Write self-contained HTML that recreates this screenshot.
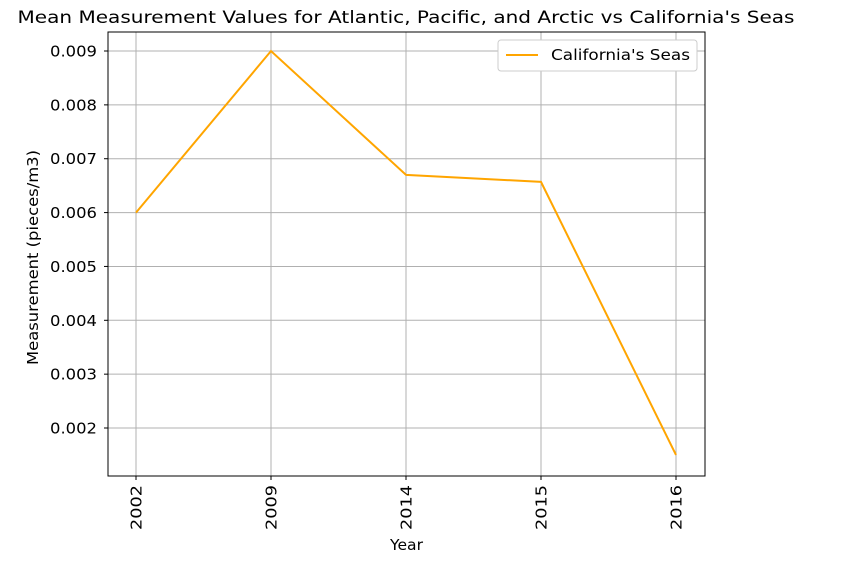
<!DOCTYPE html>
<html><head><meta charset="utf-8"><style>
body{margin:0;background:#fff;}
svg text{font-family:"DejaVu Sans","Liberation Sans",sans-serif;fill:#000;}
</style></head><body>
<svg id="chart" width="852" height="567" xmlns="http://www.w3.org/2000/svg">
<text x="406" y="23" font-size="16.5" text-anchor="middle" textLength="777" lengthAdjust="spacingAndGlyphs">Mean Measurement Values for Atlantic, Pacific, and Arctic vs California's Seas</text>
<g id="grid"></g>
<g id="series"></g>
<rect x="108" y="32" width="597" height="444" fill="none" stroke="#000" stroke-width="1"/>
<g id="axes"></g>
<text transform="translate(38,257.5) rotate(-90)" font-size="15" text-anchor="middle" textLength="215" lengthAdjust="spacingAndGlyphs">Measurement (pieces/m3)</text>
<text x="406.5" y="550" font-size="15" text-anchor="middle" textLength="33" lengthAdjust="spacingAndGlyphs">Year</text>
<g>
<rect x="498" y="40" width="199" height="31" rx="3" fill="#fff" stroke="#ccc"/>
<line x1="506" y1="55" x2="538" y2="55" stroke="#ffa500" stroke-width="2"/>
<text x="551" y="60" font-size="15" textLength="139" lengthAdjust="spacingAndGlyphs">California's Seas</text>
</g>
</svg>
<script>
const categories=["2002","2009","2014","2015","2016"];
const values=[0.006,0.009,0.0067,0.00657,0.0015];
const yTicks=[0.002,0.003,0.004,0.005,0.006,0.007,0.008,0.009];
const NS="http://www.w3.org/2000/svg";
const x0=136,dx=135;
function xs(i){return x0+i*dx;}
const yMin=0.001109,yMax=0.009353,plotTop=32,plotBot=476;
function ys(v){return plotBot-(v-yMin)/(yMax-yMin)*(plotBot-plotTop);}
function mk(t,a,p){const e=document.createElementNS(NS,t);for(const k in a)e.setAttribute(k,a[k]);p.appendChild(e);return e;}
const grid=document.getElementById('grid'),axes=document.getElementById('axes'),ser=document.getElementById('series');
yTicks.forEach(v=>{
 const y=ys(v);
 const g=mk('line',{x1:108,x2:705,y1:y,y2:y,stroke:'#b0b0b0','stroke-width':1},grid);
 
 
 const t=mk('line',{x1:104,x2:108,y1:y,y2:y,stroke:'#000'},axes);
 
 
 const l=mk('text',{x:97,y:y+5.5,'font-size':15,'text-anchor':'end',textLength:47,lengthAdjust:'spacingAndGlyphs'},axes);
 l.textContent=v.toFixed(3);
 
 
});
categories.forEach((c,i)=>{
 const x=xs(i);
 const g=mk('line',{x1:x,x2:x,y1:32,y2:476,stroke:'#b0b0b0','stroke-width':1},grid);
 
 
 const t=mk('line',{x1:x,x2:x,y1:476,y2:480,stroke:'#000'},axes);
 
 
 const l=mk('text',{transform:`translate(${x+5.5},485) rotate(-90)`,'font-size':15,'text-anchor':'end',textLength:45,lengthAdjust:'spacingAndGlyphs'},axes);
 l.textContent=c;
 
 
});
const pts=values.map((v,i)=>xs(i)+','+ys(v)).join(' ');
const pl=mk('polyline',{points:pts,fill:'none',stroke:'#ffa500','stroke-width':2},ser);


</script>
</body></html>
